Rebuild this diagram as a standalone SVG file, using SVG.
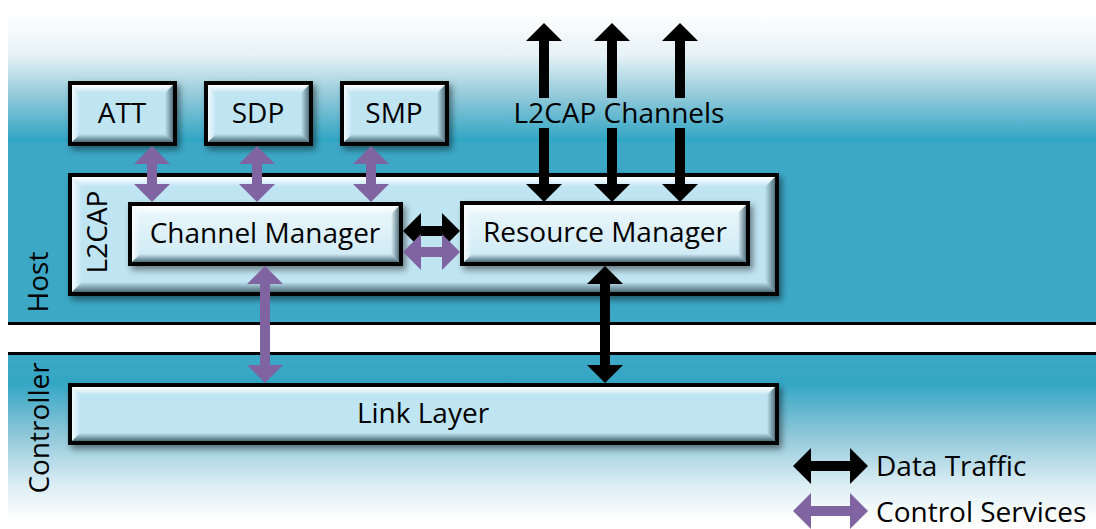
<svg xmlns="http://www.w3.org/2000/svg" width="1096" height="529" viewBox="0 0 1096 529">
  <style>
    text { font-family: "Open Sans", "Liberation Sans", sans-serif; fill: #000; }
    .lbl { font-size: 28px; text-anchor: middle; }
    .side { font-size: 28px; text-anchor: middle; }
    .leg { font-size: 28px; }
    .box { fill: #bfe4f2; stroke: #000; stroke-width: 4; }
    .inner { fill: url(#innerFill); stroke: #000; stroke-width: 4; }
    .shadow { filter: url(#drop); }
    .bt { fill: url(#bevTop); }
    .bl { fill: url(#bevLeft); }
    .bb { fill: url(#bevBottom); }
    .br { fill: url(#bevRight); }
    .data { stroke: #000; stroke-width: 10; marker-start: url(#headK); marker-end: url(#headK); }
    .ctrl { stroke: #8064a2; stroke-width: 10; marker-start: url(#headP); marker-end: url(#headP); }
    .sep { stroke: #000; stroke-width: 3; }
  </style>
  <defs>
    <linearGradient id="hostBg" gradientUnits="userSpaceOnUse" x1="0" y1="0" x2="0" y2="324">
      <stop offset="0.04" stop-color="#ffffff"/>
      <stop offset="0.17" stop-color="#e6f2f6"/>
      <stop offset="0.30" stop-color="#8fc8d9"/>
      <stop offset="0.435" stop-color="#2fa5c4"/>
      <stop offset="0.44" stop-color="#3ca8c6"/>
      <stop offset="1" stop-color="#3ca8c6"/>
    </linearGradient>
    <linearGradient id="ctrlBg" gradientUnits="userSpaceOnUse" x1="0" y1="355" x2="0" y2="529">
      <stop offset="0" stop-color="#3ca8c6"/>
      <stop offset="0.16" stop-color="#33a6c4"/>
      <stop offset="0.45" stop-color="#8cc6d8"/>
      <stop offset="0.75" stop-color="#dceef4"/>
      <stop offset="0.95" stop-color="#ffffff"/>
    </linearGradient>
    <linearGradient id="innerFill" x1="0" y1="0" x2="0" y2="1">
      <stop offset="0" stop-color="#eef8fc"/>
      <stop offset="1" stop-color="#cbe9f5"/>
    </linearGradient>
    <linearGradient id="bevTop" x1="0" y1="0" x2="0" y2="1">
      <stop offset="0" stop-color="#ffffff"/>
      <stop offset="1" stop-color="#ffffff" stop-opacity="0"/>
    </linearGradient>
    <linearGradient id="bevLeft" x1="0" y1="0" x2="1" y2="0">
      <stop offset="0" stop-color="#ffffff" stop-opacity="0.8"/>
      <stop offset="1" stop-color="#ffffff" stop-opacity="0"/>
    </linearGradient>
    <linearGradient id="bevBottom" x1="0" y1="0" x2="0" y2="1">
      <stop offset="0" stop-color="#3f5f6b" stop-opacity="0"/>
      <stop offset="1" stop-color="#3f5f6b" stop-opacity="0.9"/>
    </linearGradient>
    <linearGradient id="bevRight" x1="0" y1="0" x2="1" y2="0">
      <stop offset="0" stop-color="#3f5f6b" stop-opacity="0"/>
      <stop offset="1" stop-color="#3f5f6b" stop-opacity="0.85"/>
    </linearGradient>
    <filter id="drop" x="-10%" y="-20%" width="130%" height="150%">
      <feDropShadow dx="3" dy="4" stdDeviation="3" flood-color="#000" flood-opacity="0.45"/>
    </filter>
    <marker id="headK" markerUnits="userSpaceOnUse" viewBox="0 0 18 36" markerWidth="18" markerHeight="36" refX="0" refY="18" orient="auto-start-reverse">
      <path d="M0,0 L18,18 L0,36 Z" fill="#000"/>
    </marker>
    <marker id="headP" markerUnits="userSpaceOnUse" viewBox="0 0 18 36" markerWidth="18" markerHeight="36" refX="0" refY="18" orient="auto-start-reverse">
      <path d="M0,0 L18,18 L0,36 Z" fill="#8064a2"/>
    </marker>
  </defs>

  <!-- layer backgrounds -->
  <g id="background">
    <rect x="0" y="0" width="1096" height="529" fill="#ffffff"/>
    <rect x="8" y="0" width="1088" height="324" fill="url(#hostBg)"/>
    <rect x="8" y="354" width="1088" height="175" fill="url(#ctrlBg)"/>
    <line class="sep" x1="8" y1="323.5" x2="1096" y2="323.5"/>
    <line class="sep" x1="8" y1="353.5" x2="1096" y2="353.5"/>
    <text class="side" transform="translate(48,282) rotate(-90)">Host</text>
    <text class="side" transform="translate(49,428) rotate(-90)">Controller</text>
  </g>

  <!-- L2CAP container -->
  <g id="l2cap">
    <rect class="box shadow" x="70" y="175" width="707" height="119"/>
    <polygon class="bt" points="72,177 775,177 765,187 82,187"/>
    <polygon class="bl" points="72,177 82,187 82,282 72,292"/>
    <polygon class="bb" points="72,292 82,282 765,282 775,292"/>
    <polygon class="br" points="775,177 775,292 765,282 765,187"/>
    <text class="side" transform="translate(107,232) rotate(-90)">L2CAP</text>
  </g>

  <g id="att">
    <rect class="box shadow" x="70" y="83" width="105" height="61"/>
    <polygon class="bt" points="72,85 173,85 165,93 80,93"/>
    <polygon class="bl" points="72,85 80,93 80,134 72,142"/>
    <polygon class="bb" points="72,142 80,134 165,134 173,142"/>
    <polygon class="br" points="173,85 173,142 165,134 165,93"/>
    <text class="lbl" x="122" y="123">ATT</text>
  </g>

  <g id="sdp">
    <rect class="box shadow" x="206" y="83" width="105" height="61"/>
    <polygon class="bt" points="208,85 309,85 301,93 216,93"/>
    <polygon class="bl" points="208,85 216,93 216,134 208,142"/>
    <polygon class="bb" points="208,142 216,134 301,134 309,142"/>
    <polygon class="br" points="309,85 309,142 301,134 301,93"/>
    <text class="lbl" x="258" y="123">SDP</text>
  </g>

  <g id="smp">
    <rect class="box shadow" x="342" y="83" width="105" height="61"/>
    <polygon class="bt" points="344,85 445,85 437,93 352,93"/>
    <polygon class="bl" points="344,85 352,93 352,134 344,142"/>
    <polygon class="bb" points="344,142 352,134 437,134 445,142"/>
    <polygon class="br" points="445,85 445,142 437,134 437,93"/>
    <text class="lbl" x="394" y="123">SMP</text>
  </g>

  <g id="channel-manager">
    <rect class="inner shadow" x="130" y="204" width="271" height="60"/>
    <polygon class="bt" points="132,206 399,206 391,214 140,214"/>
    <polygon class="bl" points="132,206 140,214 140,254 132,262"/>
    <polygon class="bb" points="132,262 140,254 391,254 399,262"/>
    <polygon class="br" points="399,206 399,262 391,254 391,214"/>
    <text class="lbl" x="265" y="243">Channel Manager</text>
  </g>

  <g id="resource-manager">
    <rect class="inner shadow" x="462" y="203" width="286" height="61"/>
    <polygon class="bt" points="464,205 746,205 738,213 472,213"/>
    <polygon class="bl" points="464,205 472,213 472,254 464,262"/>
    <polygon class="bb" points="464,262 472,254 738,254 746,262"/>
    <polygon class="br" points="746,205 746,262 738,254 738,213"/>
    <text class="lbl" x="605" y="242">Resource Manager</text>
  </g>

  <g id="link-layer">
    <rect class="box shadow" x="70" y="385" width="707" height="58"/>
    <polygon class="bt" points="72,387 775,387 767,395 80,395"/>
    <polygon class="bl" points="72,387 80,395 80,433 72,441"/>
    <polygon class="bb" points="72,441 80,433 767,433 775,441"/>
    <polygon class="br" points="775,387 775,441 767,433 767,395"/>
    <text class="lbl" x="423" y="423">Link Layer</text>
  </g>

  <g id="channels-label">
    <text class="lbl" x="619" y="123">L2CAP Channels</text>
  </g>

  <!-- connectors -->
  <g id="connectors">
    <line class="ctrl" x1="152" y1="164" x2="152" y2="184"/>
    <line class="ctrl" x1="257" y1="164" x2="257" y2="184"/>
    <line class="ctrl" x1="371" y1="164" x2="371" y2="184"/>
    <line class="ctrl" x1="265" y1="284" x2="265" y2="365"/>
    <line class="data" x1="605" y1="284" x2="605" y2="365"/>
    <line class="data" x1="421" y1="231" x2="442" y2="231"/>
    <line class="ctrl" x1="421" y1="252" x2="442" y2="252"/>
    <!-- channel arrows, interrupted by their label -->
    <line class="data" style="marker-end:none" x1="544" y1="41" x2="544" y2="98"/>
    <line class="data" style="marker-start:none" x1="544" y1="128" x2="544" y2="184"/>
    <line class="data" style="marker-end:none" x1="612" y1="41" x2="612" y2="98"/>
    <line class="data" style="marker-start:none" x1="612" y1="128" x2="612" y2="184"/>
    <line class="data" style="marker-end:none" x1="680" y1="41" x2="680" y2="98"/>
    <line class="data" style="marker-start:none" x1="680" y1="128" x2="680" y2="184"/>
  </g>

  <g id="legend">
    <line class="data" x1="811" y1="466" x2="850" y2="466"/>
    <text class="leg" x="876" y="476">Data Traffic</text>
    <line class="ctrl" x1="811" y1="511" x2="850" y2="511"/>
    <text class="leg" x="876" y="522">Control Services</text>
  </g>
</svg>
